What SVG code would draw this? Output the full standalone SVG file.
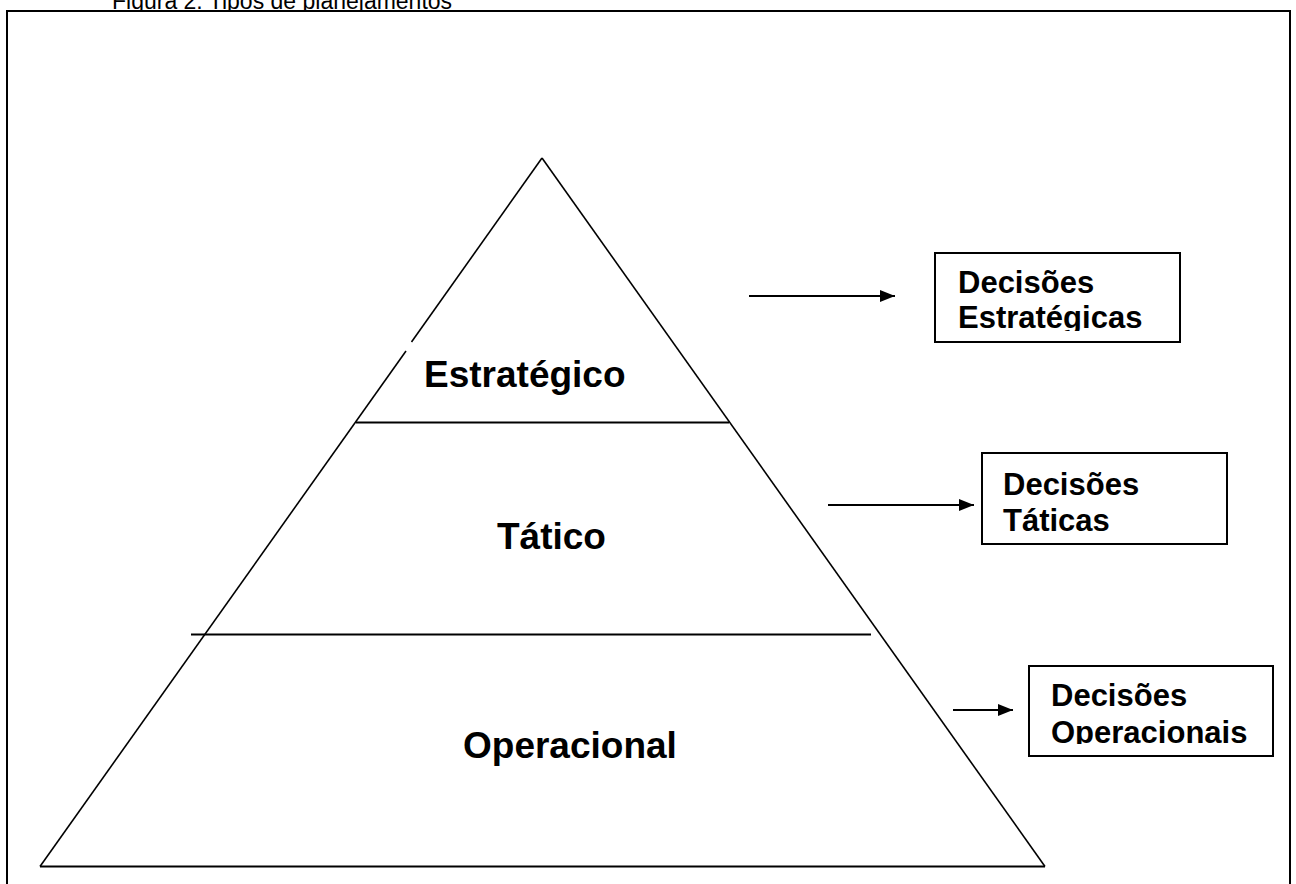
<svg xmlns="http://www.w3.org/2000/svg" width="1296" height="884" viewBox="0 0 1296 884">
<style>
.ln{stroke:#000;stroke-width:1.6;fill:none}
.hl{stroke:#000;stroke-width:2.2;fill:none}
.box{stroke:#000;stroke-width:2;fill:#fff}
.lvl{font-family:"Liberation Sans",Arial,sans-serif;font-weight:bold;font-size:37px;fill:#000}
.bt{font-family:"Liberation Sans",Arial,sans-serif;font-weight:bold;font-size:31px;fill:#000}
.ttl{font-family:"Liberation Sans",Arial,sans-serif;font-size:23px;fill:#000}
</style>
<defs>
<marker id="ah" viewBox="0 0 15 12" refX="15" refY="6" markerWidth="15" markerHeight="12" markerUnits="userSpaceOnUse" orient="auto">
<path d="M0,0 L15,6 L0,12 Z" fill="#000"/>
</marker>
<clipPath id="ctitle"><rect x="0" y="0" width="1296" height="10"/></clipPath>
<clipPath id="c1"><rect x="936" y="254" width="243" height="77"/></clipPath>
<clipPath id="c2"><rect x="983" y="454" width="243" height="89"/></clipPath>
<clipPath id="c3"><rect x="1030" y="667" width="242" height="77"/></clipPath>
</defs>
<rect width="1296" height="884" fill="#fff"/>
<text class="ttl" x="112" y="8.5" clip-path="url(#ctitle)">Figura 2: Tipos de planejamentos</text>
<rect x="7" y="11" width="1283" height="900" fill="none" stroke="#000" stroke-width="2"/>
<g id="pyramid">
<path class="ln" d="M542,158 L411.5,342"/>
<path class="ln" d="M406,351 L40,866.5"/>
<path class="ln" d="M542,158 L1045,866.5"/>
<path class="hl" d="M40,866.5 H1045"/>
<path class="hl" d="M356,422.5 H729"/>
<path class="hl" d="M191,634.5 H871"/>
</g>
<g id="estrategico"><text class="lvl" x="424" y="387">Estratégico</text></g>
<g id="tatico"><text class="lvl" x="497" y="549">Tático</text></g>
<g id="operacional"><text class="lvl" x="463" y="758">Operacional</text></g>
<g id="connectors">
<line class="hl" x1="749" y1="296" x2="895" y2="296" marker-end="url(#ah)"/>
<line class="hl" x1="828" y1="505" x2="974" y2="505" marker-end="url(#ah)"/>
<line class="hl" x1="953" y1="710" x2="1013" y2="710" marker-end="url(#ah)"/>
</g>
<g id="dec-estrategicas">
<rect class="box" x="935" y="253" width="245" height="89"/>
<g clip-path="url(#c1)"><text class="bt" x="958" y="293">Decisões</text><text class="bt" x="958" y="328">Estratégicas</text></g>
</g>
<g id="dec-taticas">
<rect class="box" x="982" y="453" width="245" height="91"/>
<g clip-path="url(#c2)"><text class="bt" x="1003" y="495">Decisões</text><text class="bt" x="1003" y="531">Táticas</text></g>
</g>
<g id="dec-operacionais">
<rect class="box" x="1029" y="666" width="244" height="90"/>
<g clip-path="url(#c3)"><text class="bt" x="1051" y="706">Decisões</text><text class="bt" x="1051" y="743">Operacionais</text></g>
</g>
</svg>
